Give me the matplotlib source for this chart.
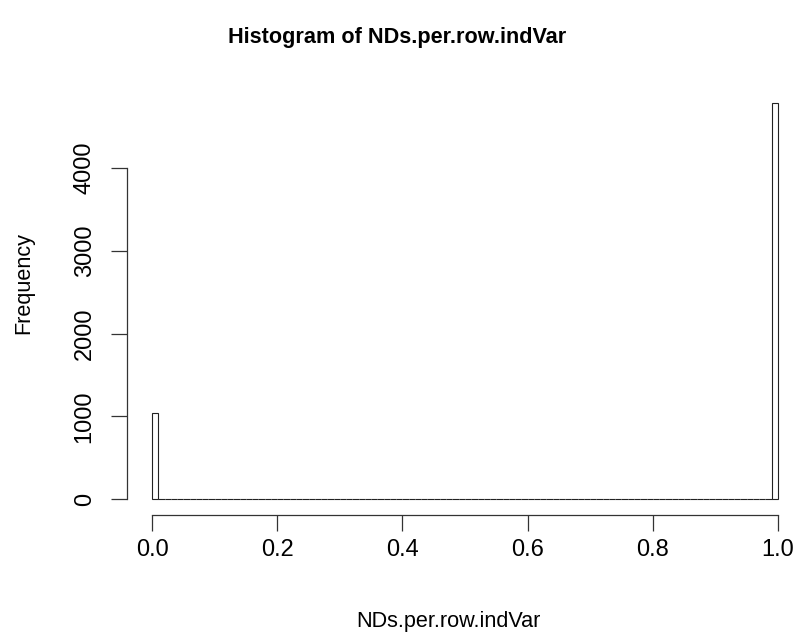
import numpy as np
import matplotlib.pyplot as plt

plt.rcParams['font.family'] = ['Liberation Sans', 'DejaVu Sans']

# 100 bins of width 0.01 between 0 and 1
edges = np.linspace(0, 1, 101)
counts = [1040] + [0] * 98 + [4790]
xticks = [0.0, 0.2, 0.4, 0.6, 0.8, 1.0]
yticks = [0, 1000, 2000, 3000, 4000]

W, H = 797, 636
fig = plt.figure(figsize=(W / 100, H / 100), dpi=100)
# plot region in pixels (R style 4% padding around data)
left, right, top, bottom = 127, 803, 87, 515
ax = fig.add_axes([left / W, 1 - bottom / H, (right - left) / W, (bottom - top) / H])

ax.bar(edges[:-1], counts, width=0.01, align='edge', fill=False,
       edgecolor='#222222', linewidth=0.8)

ymax = max(counts)
ax.set_xlim(-0.04, 1.04)
ax.set_ylim(-0.04 * ymax, 1.04 * ymax)

for s in ['top', 'right']:
    ax.spines[s].set_visible(False)
ax.spines['left'].set_bounds(0, 4000)
ax.spines['bottom'].set_bounds(0, 1)
for s in ['left', 'bottom']:
    ax.spines[s].set_linewidth(0.9)
    ax.spines[s].set_color('#333333')

ax.set_xticks(xticks)
ax.set_xticklabels(['%.1f' % v for v in xticks])
ax.set_yticks(yticks)
ax.set_yticklabels([str(v) for v in yticks], rotation=90, va='center')
ax.tick_params(axis='both', direction='out', length=11.5, width=0.9,
               color='#333333', labelsize=17)
ax.tick_params(axis='x', pad=6)
ax.tick_params(axis='y', pad=11)

fig.text(397 / W, 1 - 37 / H, 'Histogram of NDs.per.row.indVar', ha='center',
         va='center', fontsize=15.6, fontweight='bold')
fig.text(448 / W, 1 - 622 / H, 'NDs.per.row.indVar', ha='center', va='center',
         fontsize=15.6)
fig.text(24 / W, 1 - 283 / H, 'Frequency', ha='center', va='center',
         rotation=90, fontsize=15.6)

fig.savefig('out.png', dpi=100)
